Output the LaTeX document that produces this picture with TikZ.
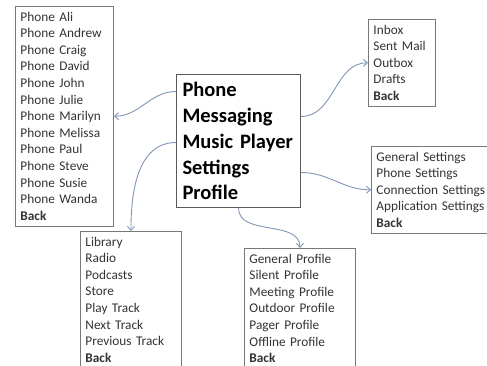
\documentclass[tikz,border=0pt]{standalone}
\usepackage{fontspec}
\setmainfont{Carlito}
\newfontfamily\listfamily{Carlito}[WordSpace=0.6]
\usetikzlibrary{arrows.meta}
\definecolor{linkblue}{RGB}{128,150,180}
\definecolor{boxgray}{RGB}{120,120,120}
\newcommand\listfont{\listfamily\fontsize{13.3}{16.6}\selectfont\hyphenpenalty=10000\relax}

\begin{document}
\begin{tikzpicture}[x=1pt, y=-1pt, >={Straight Barb[length=4pt,width=7pt]},
menu/.style={draw=boxgray, line width=0.9pt, anchor=north west, align=left, inner xsep=5pt, inner ysep=5.5pt, font=\listfont, text=black!80},
home/.style={draw=black!65, line width=1pt, anchor=north west, align=left, inner xsep=6pt, inner ysep=4pt, font=\fontsize{20.5}{25.9}\selectfont\bfseries},
link/.style={->, draw=linkblue, line width=0.9pt}]
\useasboundingbox (0,0) rectangle (487,366);
\clip (0,0) rectangle (487,366);
\node[home, text width=112pt, minimum height=133pt] (main) at (176,74) {Phone\\Messaging\\Music Player\\Settings\\Profile};
\node[menu, text width=88pt] (phone) at (15,6) {Phone Ali\\Phone Andrew\\Phone Craig\\Phone David\\Phone John\\Phone Julie\\Phone Marilyn\\Phone Melissa\\Phone Paul\\Phone Steve\\Phone Susie\\Phone Wanda\\\textbf{Back}};
\node[menu, text width=57pt] (msg) at (368,19) {Inbox\\Sent Mail\\Outbox\\Drafts\\\textbf{Back}};
\node[menu, text width=110pt] (set) at (371,146) {General Settings\\Phone Settings\\Connection~Settings\\Application~Settings\\\textbf{Back}};
\node[menu, text width=91pt] (music) at (80,231) {Library\\Radio\\Podcasts\\Store\\Play Track\\Next Track\\Previous Track\\\textbf{Back}};
\node[menu, text width=101pt] (prof) at (244,248) {General Profile\\Silent Profile\\Meeting Profile\\Outdoor Profile\\Pager Profile\\Offline Profile\\\textbf{Back}};
% menu links
\draw[link] ([yshift=49.5pt]main.west) to[out=180, in=0] (phone.east);
\draw[link] ([yshift=-1.5pt]main.west) to[out=180, in=90] (music.north);
\draw[link] ([yshift=24.5pt]main.east) to[out=0, in=180] (msg.west);
\draw[link] ([yshift=-31.5pt]main.east) to[out=0, in=180] (set.west);
\draw[link] (main.south) to[out=-90, in=90] (prof.north);
\end{tikzpicture}
\end{document}
